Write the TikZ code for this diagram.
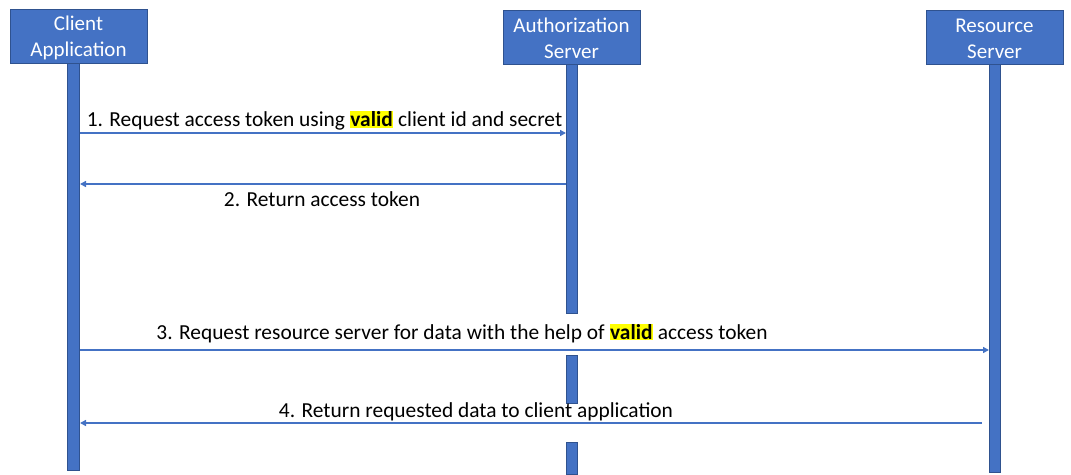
\documentclass[tikz,border=0pt]{standalone}
\usepackage{fontspec}
\setmainfont{Carlito}
\usetikzlibrary{arrows.meta}
\definecolor{blu}{HTML}{4472C4}
\definecolor{blud}{HTML}{2F528F}
\definecolor{hl}{HTML}{FFFF00}
\newcommand{\hlword}[1]{{\setlength{\fboxsep}{0.5pt}\colorbox{hl}{\textbf{#1}}}}
\begin{document}
\begin{tikzpicture}[x=1pt,y=-1pt,
  actor/.style={draw=blud,fill=blu,line width=0.8pt,text=white,align=center,inner sep=0pt,minimum width=137pt,minimum height=54pt,font=\fontsize{21}{26}\selectfont},
  bar/.style={draw=blud,fill=blu,line width=0.6pt},
  msg/.style={draw=blu,line width=1.5pt,-{Triangle[length=6pt,width=6pt]}},
  lbl/.style={inner sep=0pt,font=\fontsize{21.4}{25}\selectfont}]
\useasboundingbox (0,0) rectangle (1071,474);
% lifelines
\path[bar] (67,63) rectangle (79,470);
\path[bar] (566,64) rectangle (577,313);
\path[bar] (566,355) rectangle (577,403);
\path[bar] (566,442) rectangle (577,474);
\path[bar] (989,64) rectangle (1000,472);
% actors (boxes drawn, text placed slightly lower as in the reference)
\node[actor,text depth=0pt] (client) at (78.5,36) {};
\node[actor] (auth) at (571.5,37) {};
\node[actor] (res) at (994.5,37) {};
\node[text=white,align=center,inner sep=0pt,font=\fontsize{21}{26}\selectfont] (clientt) at ([yshift=-1.5pt]client.center) {Client\\Application};
\node[text=white,align=center,inner sep=0pt,font=\fontsize{21}{26}\selectfont] (autht) at ([yshift=-1.5pt]auth.center) {Authorization\\Server};
\node[text=white,align=center,inner sep=0pt,font=\fontsize{21}{26}\selectfont] (rest) at ([yshift=-1.5pt]res.center) {Resource\\Server};
% message endpoints
\coordinate (c1) at (80,133); \coordinate (a1) at (566,133);
\coordinate (a2) at (566,184); \coordinate (c2) at (80,184);
\coordinate (c3) at (80,350); \coordinate (r3) at (989,350);
\coordinate (r4) at (982,423); \coordinate (c4) at (80,423);
\draw[msg] (c1) -- (a1);
\draw[msg] (a2) -- (c2);
\draw[msg] (c3) -- (r3);
\draw[msg] (r4) -- (c4);
% labels
\node[lbl] (l1) at (324.5,121) {1. Request access token using \hlword{valid} client id and secret};
\node[lbl] (l2) at (322,199) {2. Return access token};
\node[lbl] (l3) at (462,333) {3. Request resource server for data with the help of \hlword{valid} access token};
\node[lbl] (l4) at (476,412) {4. Return requested data to client application};
\end{tikzpicture}
\end{document}
